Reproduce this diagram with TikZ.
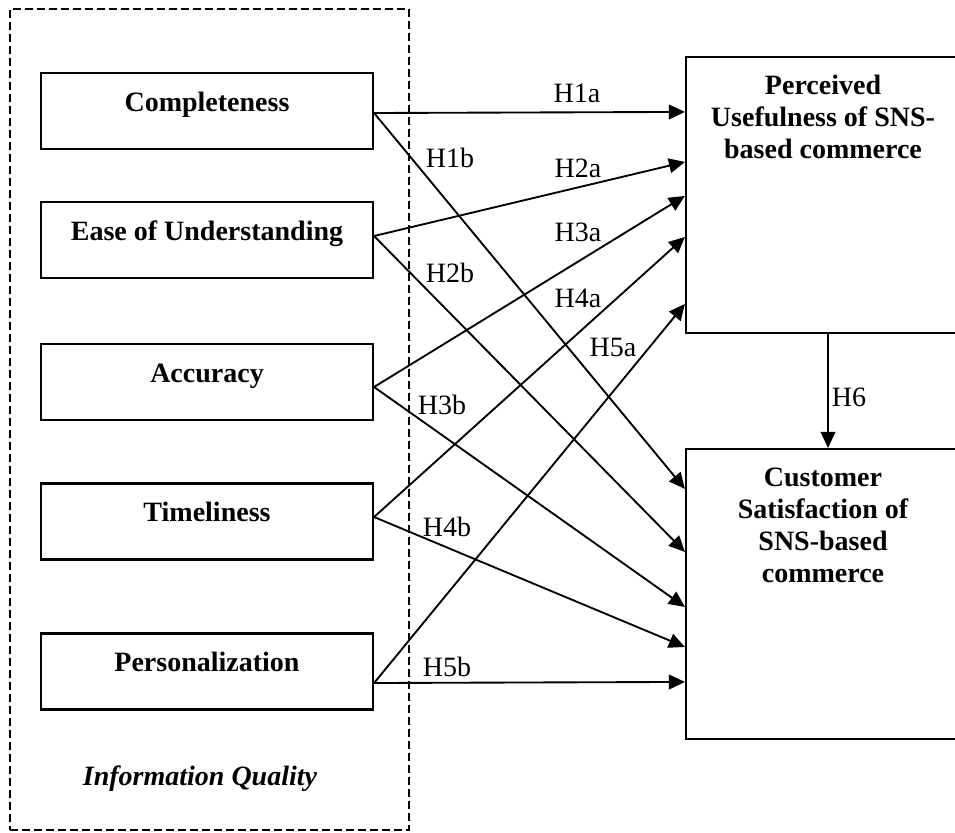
\documentclass[tikz,border=0pt]{standalone}
\usepackage{fontspec}
\setmainfont{Liberation Serif}
\usetikzlibrary{arrows.meta,calc}
\begin{document}
\begin{tikzpicture}[x=0.75pt,y=-0.75pt,
  font=\fontsize{21}{24}\selectfont,
  box/.style={draw,line width=1.6pt,minimum width=249pt,minimum height=57pt,inner sep=0pt,font=\fontsize{21}{24}\selectfont\bfseries,text height=15pt,text depth=15pt},
  bigbox/.style={draw,line width=1.6pt,minimum width=205.5pt,inner sep=0pt},
  btxt/.style={align=center,font=\fontsize{21}{24}\selectfont\bfseries,inner sep=0pt},
  hl/.style={inner sep=0pt},
  arr/.style={line width=1.4pt,-{Triangle[length=12pt,width=11pt]}},
  iqgroup/.style={draw,dashed,dash pattern=on 6pt off 3pt,line width=1.2pt,inner sep=0pt}]
\clip (0,0) rectangle (955,832);
\fill[white] (0,0) rectangle (955,832);
\node[iqgroup,minimum width=299.25pt,minimum height=615.75pt] (grp) at (209.5,419.5) {};
\node[box] (c1) at (207,111) {Completeness};
\node[box] (c2) at (207,240) {Ease of Understanding};
\node[box] (c3) at (207,382) {Accuracy};
\node[box] (c4) at (207,521.5) {Timeliness};
\node[box] (c5) at (207,671.5) {Personalization};
\node[font=\fontsize{21}{24}\selectfont\bfseries\itshape] (iq) at (200,779) {Information Quality};
\node[bigbox,minimum height=207pt] (pu) at (823,195) {};
\node[btxt] (put) at (823,117) {Perceived\\Usefulness of SNS-\\based commerce};
\node[bigbox,minimum height=217.5pt] (cs) at (823,594) {};
\node[btxt] (cst) at (823,525) {Customer\\Satisfaction of\\SNS-based\\commerce};
\draw[arr] ($(c1.east)+(0,2)$) -- ($(pu.north west)+(0,56)$);
\draw[arr] ($(c1.east)+(0,2)$) -- ($(cs.north west)+(0,41)$);
\draw[arr] ($(c2.east)+(0,-4)$) -- ($(pu.north west)+(0,106)$);
\draw[arr] ($(c2.east)+(0,-4)$) -- ($(cs.north west)+(0,104)$);
\draw[arr] ($(c3.east)+(0,5)$) -- ($(pu.north west)+(0,140)$);
\draw[arr] ($(c3.east)+(0,5)$) -- ($(cs.north west)+(0,159)$);
\draw[arr] ($(c4.east)+(0,-4.5)$) -- ($(pu.north west)+(0,181)$);
\draw[arr] ($(c4.east)+(0,-4.5)$) -- ($(cs.north west)+(0,199)$);
\draw[arr] ($(c5.east)+(0,11.5)$) -- ($(pu.north west)+(0,248)$);
\draw[arr] ($(c5.east)+(0,11.5)$) -- ($(cs.north west)+(0,234)$);
\draw[arr] ($(pu.south)+(5,0)$) -- ($(cs.north)+(5,0)$);
\node[hl] (h1a) at (577,93) {H1a};
\node[hl] (h2a) at (578,168) {H2a};
\node[hl] (h3a) at (578,232) {H3a};
\node[hl] (h4a) at (578,298) {H4a};
\node[hl] (h5a) at (613,347) {H5a};
\node[hl] (h1b) at (450,158) {H1b};
\node[hl] (h2b) at (450,273) {H2b};
\node[hl] (h3b) at (442,405) {H3b};
\node[hl] (h4b) at (447,527) {H4b};
\node[hl] (h5b) at (447,667) {H5b};
\node[hl] (h6) at (849,397) {H6};
\end{tikzpicture}
\end{document}
